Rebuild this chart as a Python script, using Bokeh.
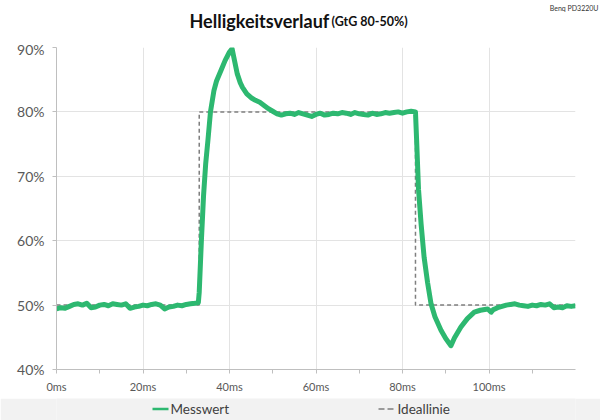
from bokeh.plotting import figure
from bokeh.layouts import column
from bokeh.models import (ColumnDataSource, FixedTicker, PrintfTickFormatter, Range1d)
from bokeh.core.properties import value
from bokeh.embed import file_html
from bokeh.resources import INLINE

# ---- data ----
time_ms = [0, 1, 2, 3, 4, 5, 6, 7, 8, 9, 10, 11, 12, 13, 14, 15, 16, 17, 18, 19,
           20, 21, 22, 23, 24, 25, 26, 27, 28, 29, 30, 31, 32, 32.8,
           33.0, 33.5, 34.0, 34.5, 35.0, 35.6, 36.4, 37, 38, 39, 40, 40.6, 41, 41.8, 42.5,
           43, 44, 45, 46, 47, 48, 49, 50, 51, 52, 53, 54, 55, 56, 57, 58, 59, 60,
           61, 62, 63, 64, 65, 66, 67, 68, 69, 70, 71, 72, 73, 74, 75, 76, 77, 78, 79,
           80, 81, 82, 83, 83.3, 83.7, 84.3, 85, 85.8, 86.6, 87.5, 88.9, 90, 91.2, 92,
           93.5, 95, 96.6, 98, 99.7, 100.5, 101, 102, 103, 104, 105, 106, 107, 108,
           109, 110, 111, 112, 113, 114, 115, 116, 117, 118, 119, 120]
messwert = [49.4, 49.6, 49.5, 49.8, 50.1, 50.2, 50.0, 50.3, 49.6, 49.7, 50.0, 50.1, 49.9,
            50.2, 50.1, 50.0, 50.2, 49.5, 49.7, 49.8, 50.0, 49.9, 50.1, 50.2, 50.0, 49.4,
            49.7, 49.8, 50.0, 49.9, 50.1, 50.2, 50.3, 50.4,
            52.0, 60.0, 67.0, 72.0, 75.5, 80.0, 83.3, 84.8, 86.4, 88.0, 89.3, 89.8, 88.5,
            85.9, 84.5, 83.8, 82.8, 82.2, 81.8, 81.5, 81.0, 80.5, 80.1, 79.7, 79.5, 79.7,
            79.8, 79.6, 79.9, 79.7, 79.5, 79.3, 79.6, 79.8, 79.5, 79.6, 79.8, 79.7, 79.9,
            79.8, 79.6, 79.9, 79.7, 79.6, 79.5, 79.8, 79.6, 79.7, 79.9, 79.8, 79.9, 80.0,
            79.8, 80.0, 80.1, 80.0, 75.0, 68.0, 62.6, 57.4, 53.5, 50.2, 48.2, 46.1, 44.8,
            43.7, 44.9, 46.6, 47.9, 48.9, 49.2, 49.4, 48.9, 49.3, 49.6, 49.8, 50.0, 50.1,
            50.2, 50.0, 49.9, 49.8, 50.0, 49.9, 50.1, 50.0, 50.2, 49.6, 49.7, 49.6, 49.9,
            49.8, 49.9]
ideal_t = [0, 33, 33, 83, 83, 120]
ideal_v = [50, 50, 80, 80, 50, 50]
x_ticks = [0, 20, 40, 60, 80, 100]
x_minor = [10, 30, 50, 70, 90, 110]
y_ticks = [40, 50, 60, 70, 80, 90]
title_main = "Helligkeitsverlauf"
title_sub = "(GtG 80-50%)"
note = "Benq PD3220U"
series_names = ["Messwert", "Ideallinie"]

GREEN = "#2db870"
IDEAL = "#7f7f7f"
FONT = "Lato"
W = 600

# ---- header strip (title) ----
head = figure(width=W, height=40, x_range=Range1d(0, W), y_range=Range1d(40, 0),
              output_backend="svg", toolbar_location=None, min_border=0,
              x_axis_location=None, y_axis_location=None)
head.grid.visible = False
head.outline_line_color = None
head.text(x=[189], y=[20.5], text=[title_main], text_font=value(FONT),
          text_font_style="bold", text_font_size="18px", text_color="#111111",
          text_baseline="alphabetic")
head.text(x=[331], y=[20.5], text=[title_sub], text_font=value(FONT),
          text_font_style="bold", text_font_size="12.5px", text_color="#111111",
          text_baseline="alphabetic")
head.text(x=[598], y=[7], text=[note], text_font=value(FONT),
          text_font_size="7px", text_color="#333333",
          text_align="right", text_baseline="middle")

# ---- main chart ----
p = figure(width=W, height=358, x_range=(0, 120), y_range=(40, 90),
           output_backend="svg", toolbar_location=None,
           min_border_left=56, min_border_right=25, min_border_top=7, min_border_bottom=29)
p.outline_line_color = None

p.xaxis.ticker = FixedTicker(ticks=x_ticks, minor_ticks=x_minor)
p.xaxis.formatter = PrintfTickFormatter(format="%dms")
p.yaxis.ticker = FixedTicker(ticks=y_ticks)
p.yaxis.formatter = PrintfTickFormatter(format="%d%%")
for ax in (p.xaxis, p.yaxis):
    ax.axis_line_color = "#bfbfbf"
    ax.major_tick_line_color = "#bfbfbf"
    ax.minor_tick_line_color = "#bfbfbf"
    ax.major_tick_in = 0
    ax.minor_tick_in = 0
    ax.major_tick_out = 4
    ax.minor_tick_out = 4
    ax.major_label_text_font = FONT
    ax.major_label_text_color = "#595959"
p.yaxis.minor_tick_line_color = None
p.yaxis.major_label_text_font_size = "14px"
p.xaxis.major_label_text_font_size = "11px"
p.xaxis.major_label_standoff = 6
p.yaxis.major_label_standoff = 8

p.xgrid.ticker = FixedTicker(ticks=x_ticks)
p.ygrid.ticker = FixedTicker(ticks=y_ticks)
p.xgrid.grid_line_color = "#e3e3e3"
p.ygrid.grid_line_color = "#e3e3e3"

p.line(ideal_t, ideal_v, line_color=IDEAL, line_width=1.5, line_dash="4 3")
src = ColumnDataSource(dict(t=time_ms, v=messwert))
p.line("t", "v", source=src, line_color=GREEN, line_width=5, line_join="round")

# ---- legend strip (frame aligned with the chart frame: x in page pixels) ----
foot = figure(width=W, height=22, x_range=Range1d(56, 575), y_range=Range1d(22, 0),
              output_backend="svg", toolbar_location=None, min_border=0,
              min_border_left=56, min_border_right=25,
              x_axis_location=None, y_axis_location=None)
foot.grid.visible = False
foot.outline_line_color = None
foot.background_fill_color = "#f2f2f2"
foot.border_fill_color = "#f2f2f2"
foot.segment(x0=[152], y0=[10.5], x1=[168], y1=[10.5], line_color=GREEN, line_width=2.5)
foot.segment(x0=[378], y0=[10.5], x1=[395], y1=[10.5], line_color=IDEAL, line_width=1.5,
             line_dash="6 3")
foot.text(x=[170, 397], y=[10.5, 10.5], text=series_names, text_font=value(FONT),
          text_font_size="13.5px", text_color="#404040", text_baseline="middle")

layout = column(column(head), column(p, foot, spacing=0), spacing=0)
open("out.html", "w").write(file_html(layout, INLINE))
